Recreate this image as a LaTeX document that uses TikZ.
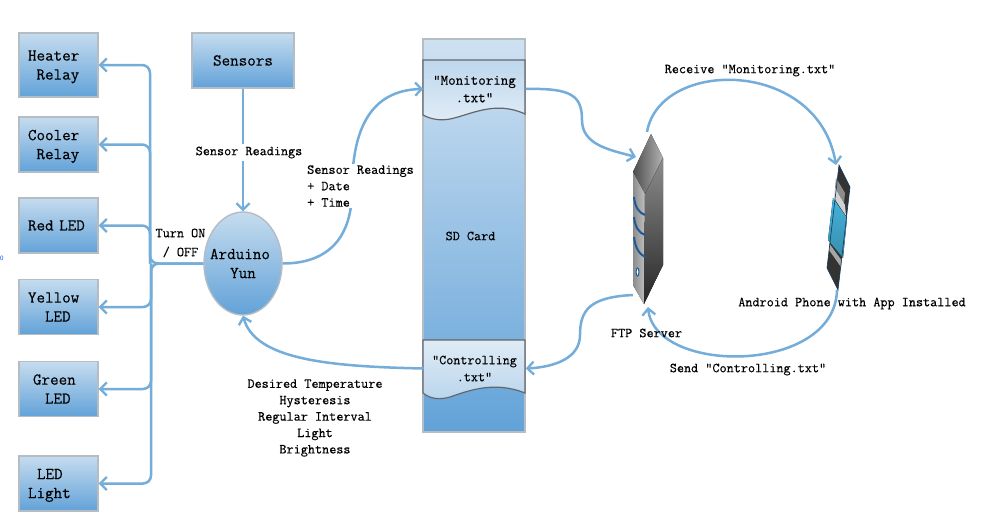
\documentclass[tikz,border=0pt]{standalone}
\usepackage{fontspec}
\setmonofont{Latin Modern Mono}[FakeBold=0.35]
\usetikzlibrary{arrows.meta,shapes.geometric}
\definecolor{flowblue}{HTML}{74ADDA}
\definecolor{boxedge}{HTML}{B4BCC4}
\definecolor{boxtop}{HTML}{C6DCEF}
\definecolor{boxbot}{HTML}{62A2D8}
\definecolor{swoosh}{HTML}{1F5A96}
\definecolor{screenblue}{HTML}{45B2DA}
\newcommand{\pad}[1]{\hspace*{#1pt}}
\newcommand{\nod}[1]{\raisebox{0pt}[\height][0pt]{#1}}
\tikzset{
  flow/.style={draw=flowblue,line width=2.5pt,-{Straight Barb[length=6.5pt,width=13pt,line width=2.3pt]}},
  elbow/.style={flow,rounded corners=8pt},
  boxlabel/.style={font=\ttfamily\fontsize{16.6}{19}\selectfont},
  smalllabel/.style={font=\ttfamily\fontsize{13.8}{16.4}\selectfont,inner sep=1pt},
  devbox/.style={boxlabel,draw=boxedge,line width=1.4pt,top color=boxtop,bottom color=boxbot,
    minimum width=79pt,text width=79pt,inner sep=0pt,align=left},
  sheet/.style={draw=none,fill=none,minimum width=102pt,inner sep=0pt,align=center,
    font=\ttfamily\fontsize{14.6}{17.5}\selectfont}
}
\begin{document}
\begin{tikzpicture}[x=1pt,y=-1pt]
\useasboundingbox (0,0) rectangle (983,530);
\fill[white] (0,0) rectangle (983,530);

% small fragment at the left edge
\node[text=blue!70!cyan,font=\sffamily\fontsize{6.5}{7}\selectfont,inner sep=0pt,anchor=west] (frag) at (0,258) {0};

% device boxes
\node[devbox,minimum height=64pt] (heater) at (58.5,65) {\pad{9}Heater\\\pad{17.5}\nod{Relay}};
\node[devbox,minimum height=55pt] (cooler) at (58.5,144.5) {\pad{9}Cooler\\\pad{17.5}\nod{Relay}};
\node[devbox,minimum height=55pt] (red) at (58.5,225.5) {\pad{9}Red LED};
\node[devbox,minimum height=55pt] (yellow) at (58.5,307) {\pad{9}Yellow\\\pad{26}LED};
\node[devbox,minimum height=55pt] (green) at (58.5,389) {\pad{14}Green\\\pad{26}LED};
\node[devbox,minimum height=55pt] (light) at (58.5,483.5) {\pad{18}LED\\\pad{9}\nod{Light}};
\node[boxlabel,draw=boxedge,line width=1.4pt,top color=boxtop,bottom color=boxbot,
  minimum width=102pt,minimum height=55pt,inner sep=0pt] (sensors) at (243,60.5) {Sensors};

% Arduino
\node[ellipse,draw=boxedge,line width=1.4pt,top color=boxtop,bottom color=boxbot,
  minimum width=78pt,minimum height=103pt,inner sep=0pt] (ard) at (243,263.5) {};
\node[boxlabel,inner sep=0pt,align=center] (ardl) at (240,263.5) {Arduino\\\pad{6}Yun};

% SD card column
\node[draw=boxedge,line width=1.2pt,top color=boxtop!85!white,bottom color=boxbot,
  minimum width=102pt,minimum height=393pt,inner sep=0pt] (sd) at (474,235.5) {};
\node[smalllabel] (sdl) at (470.5,236) {SD Card};

% file sheets
\path[draw=black!45!boxedge,line width=1.2pt,top color=boxtop!90!flowblue,bottom color=boxtop!55!white]
  (423,60) -- (525,60) -- (525,114) .. controls (495,100) and (470,115) .. (450,119)
  .. controls (440,121) and (430,119) .. (423,115) -- cycle;
\path[draw=black!45!boxedge,line width=1.2pt,top color=boxtop!55!white,bottom color=boxtop!85!flowblue]
  (423,340) -- (525,340) -- (525,393) .. controls (495,381) and (470,390) .. (450,397)
  .. controls (440,400) and (430,399) .. (423,393) -- cycle;
\node[sheet] (mon) at (474.5,89) {“Monitoring\\.txt”};
\node[sheet,font=\ttfamily\fontsize{13.7}{17}\selectfont] (ctl) at (474.5,368.5) {“Controlling\\.txt”};

% FTP server
\fill[left color=black!70,right color=black!30] (651,134) -- (663,158) -- (645,194) -- (633,172) -- cycle;
\fill[left color=black!45,right color=black!25] (633,172) -- (645,194) -- (644,304) -- (633,285) -- cycle;
\fill[bottom color=black!85,top color=black!45] (645,194) -- (663,158) -- (663,265) -- (644,304) -- cycle;
\draw[draw=swoosh,line width=2pt] (634,197) .. controls (635,207) and (639,213) .. (645,215);
\draw[draw=swoosh,line width=2pt] (634,217) .. controls (635,227) and (639,233) .. (645,235);
\draw[draw=swoosh,line width=2pt] (634,237) .. controls (635,247) and (639,254) .. (645,257);
\fill[white,draw=swoosh,line width=1pt] (637.5,272) ellipse (1.4pt and 4pt);
\coordinate (srvtop) at (647,132);
\coordinate (srvin) at (636,157);
\coordinate (srvout) at (633,295);
\coordinate (srvbot) at (648,307);

% phone
\fill[black!80] (839,165) -- (850,187) -- (838,290) -- (827,268) -- cycle;
\fill[black!45] (836,178) -- (845,193) -- (844,203) -- (835,188) -- cycle;
\fill[black!18] (835,188) -- (845,205) -- (846,216) -- (834,198) -- cycle;
\fill[top color=screenblue,bottom color=screenblue!80!black] (833,198) -- (847,218) -- (843,258) -- (828,240) -- cycle;
\fill[black!35] (829,243) -- (842,261) -- (841,267) -- (829,250) -- cycle;
\draw[draw=swoosh!60!black,line width=0.6pt] (839,165) -- (850,187) -- (838,290) -- (827,268) -- cycle;
\coordinate (phtop) at (836,165);
\coordinate (phbot) at (837,290);

% connectors
\coordinate (upt) at (150,0);
\coordinate (lot) at (151,0);
\draw[flow] (sensors) -- (ard);
\draw[elbow] (ard.west) -- (upt |- ard.west) -- (upt |- heater.east) -- (heater.east);
\draw[elbow] (upt |- ard.west) -- (upt |- cooler.east) -- (cooler.east);
\draw[elbow] (upt |- ard.west) -- (upt |- red.east) -- (red.east);
\draw[elbow] (ard.west) -- (lot |- ard.west) -- (lot |- yellow.east) -- (yellow.east);
\draw[elbow] (lot |- ard.west) -- (lot |- green.east) -- (green.east);
\draw[elbow] (lot |- ard.west) -- (lot |- light.east) -- (light.east);
\draw[flow] (ard.east) .. controls +(48,0) and (352,235) .. (352,190)
  .. controls (352,130) and (370,90) .. (mon.west);
\draw[flow] (mon.east) .. controls +(45,-1) and (582,95) .. (582,120)
  .. controls (582,145) and (610,150) .. (srvin);
\draw[flow] (srvtop) .. controls (660,58) and (818,58) .. (phtop);
\draw[flow] (phbot) .. controls (835,375) and (655,375) .. (srvbot);
\draw[flow] (srvout) .. controls (590,297) and (580,310) .. (580,335)
  .. controls (580,358) and (555,367) .. (ctl.east);
\draw[flow] (ctl.west) .. controls +(-93,-2) and (255,360) .. (ard.south);

% labels
\node[smalllabel,fill=white,inner ysep=3pt] (l1) at (249,152.5) {Sensor Readings};
\node[smalllabel,fill=white,align=left,anchor=west] (l2) at (306,186) {Sensor Readings\\+ Date\\+ Time};
\node[smalllabel,align=center] (l3) at (180.5,243) {Turn ON\\[2.6pt]/ OFF};
\node[smalllabel,align=center] (l4) at (315,418) {Desired Temperature\\Hysteresis\\Regular Interval\\Light\\Brightness};
\node[smalllabel] (l5) at (750,70.5) {Receive "Monitoring.txt"};
\node[smalllabel] (l6) at (852,303.5) {Android Phone with App Installed};
\node[smalllabel] (l7) at (646.5,333) {FTP Server};
\node[smalllabel] (l8) at (748,369.5) {Send "Controlling.txt"};
\end{tikzpicture}
\end{document}
